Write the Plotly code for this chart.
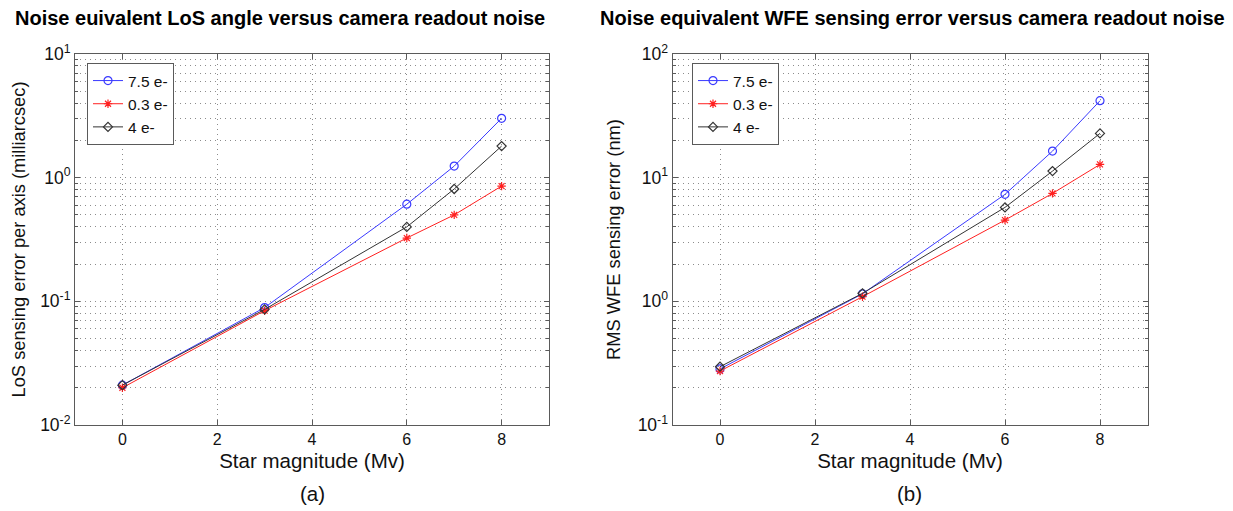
import plotly.graph_objects as go

# ---- data ----
star_mag = [0, 3, 6, 7, 8]
series_names = ["7.5 e-", "0.3 e-", "4 e-"]

# (a) LoS sensing error per axis (milliarcsec)
los_75 = [0.021, 0.089, 0.61, 1.24, 3.02]
los_03 = [0.020, 0.084, 0.325, 0.50, 0.855]
los_4 = [0.021, 0.086, 0.40, 0.81, 1.80]

# (b) RMS WFE sensing error (nm)
wfe_75 = [0.284, 1.15, 7.33, 16.4, 41.9]
wfe_03 = [0.273, 1.09, 4.54, 7.46, 12.8]
wfe_4 = [0.296, 1.16, 5.75, 11.3, 22.8]

title_a = "Noise euivalent LoS angle versus camera readout noise"
title_b = "Noise equivalent WFE sensing error versus camera readout noise"
ytitle_a = "LoS sensing error per axis (milliarcsec)"
ytitle_b = "RMS WFE sensing error (nm)"
xtitle = "Star magnitude (Mv)"
xticks = [0, 2, 4, 6, 8]
yexp_a = [-2, -1, 0, 1]
yexp_b = [-1, 0, 1, 2]

colors = ["#3a3aff", "#ff2020", "#333333"]
symbols = ["circle-open", "asterisk-open", "diamond-open"]
msizes = [8, 7, 7]

FONT = "Liberation Sans, Arial, Helvetica, sans-serif"
OFF = 8  # page body margin
W, H = 1233 - OFF, 511 - OFF

fig = go.Figure()

def add_series(yvals_list, xa, ya, legend):
    for name, yv, c, s, ms in zip(series_names, yvals_list, colors, symbols, msizes):
        fig.add_trace(go.Scatter(
            x=star_mag, y=yv, name=name, mode="lines+markers",
            line=dict(color=c, width=1),
            marker=dict(symbol=s, size=ms, color=c, line=dict(color=c, width=1.2)),
            xaxis=xa, yaxis=ya, legend=legend))

add_series([los_75, los_03, los_4], "x", "y", "legend")
add_series([wfe_75, wfe_03, wfe_4], "x2", "y2", "legend2")

def px_x(p):
    return (p - OFF) / W

def px_y(p):
    return 1 - (p - OFF) / H

top, bottom = 54, 425
grid_col = "#8c8c8c"
frame_col = "#5a5a5a"
DASH = "1.3px,3.7px"

common_x = dict(range=[-1, 9], tickmode="array", tickvals=xticks, automargin=False,
                showline=True, linecolor=frame_col, linewidth=1, mirror="ticks",
                ticks="inside", ticklen=5, tickcolor=frame_col,
                showgrid=True, gridcolor=grid_col, griddash=DASH, gridwidth=1,
                zeroline=False, tickfont=dict(family=FONT, size=16, color="#111"),
                title=dict(text=xtitle, font=dict(family=FONT, size=20.5, color="#111"), standoff=6))

def make_y(exps, title):
    lo, hi = exps[0], exps[-1]
    minor_vals = [m * 10 ** e for e in range(lo, hi) for m in range(2, 10)]
    return dict(type="log", range=[lo, hi], automargin=False,
                tickmode="array", tickvals=[10 ** e for e in exps],
                ticktext=["10<sup>%d</sup>" % e for e in exps],
                showline=True, linecolor=frame_col, linewidth=1, mirror="ticks",
                ticks="inside", ticklen=5, tickcolor=frame_col,
                showgrid=True, gridcolor=grid_col, griddash=DASH, gridwidth=1,
                minor=dict(tickmode="array", tickvals=minor_vals, ticks="inside", ticklen=3,
                           tickcolor=frame_col, showgrid=True, gridcolor=grid_col,
                           griddash=DASH, gridwidth=1),
                zeroline=False, tickfont=dict(family=FONT, size=17.5, color="#111"),
                title=dict(text=title, font=dict(family=FONT, size=18.3, color="#111"), standoff=12))

leg_common = dict(xanchor="left", yanchor="top", bgcolor="white", bordercolor=frame_col,
                  borderwidth=1, font=dict(family=FONT, size=15.5, color="#111"),
                  tracegroupgap=0, itemwidth=30)

fig.update_layout(
    width=W, height=H, margin=dict(l=0, r=0, t=0, b=0, autoexpand=False),
    paper_bgcolor="white", plot_bgcolor="white",
    xaxis=dict(domain=[px_x(75), px_x(549)], anchor="y", **common_x),
    yaxis=dict(domain=[px_y(bottom), px_y(top)], anchor="x", **make_y(yexp_a, ytitle_a)),
    xaxis2=dict(domain=[px_x(672.5), px_x(1147.5)], anchor="y2", **common_x),
    yaxis2=dict(domain=[px_y(bottom), px_y(top)], anchor="x2", **make_y(yexp_b, ytitle_b)),
    legend=dict(x=px_x(87), y=px_y(63), **leg_common),
    legend2=dict(x=px_x(692), y=px_y(63), **leg_common),
    showlegend=True,
)

for txt, cx in [(title_a, 280), (title_b, 912)]:
    fig.add_annotation(text="<b>" + txt + "</b>", x=px_x(cx), y=px_y(18), xref="paper", yref="paper",
                       xanchor="center", yanchor="middle", showarrow=False,
                       font=dict(family=FONT, size=20, color="#000"))
for txt, cx in [("(a)", 312), ("(b)", 910)]:
    fig.add_annotation(text=txt, x=px_x(cx), y=px_y(493), xref="paper", yref="paper",
                       xanchor="center", yanchor="middle", showarrow=False,
                       font=dict(family=FONT, size=20.5, color="#111"))

fig.write_html("out.html")
